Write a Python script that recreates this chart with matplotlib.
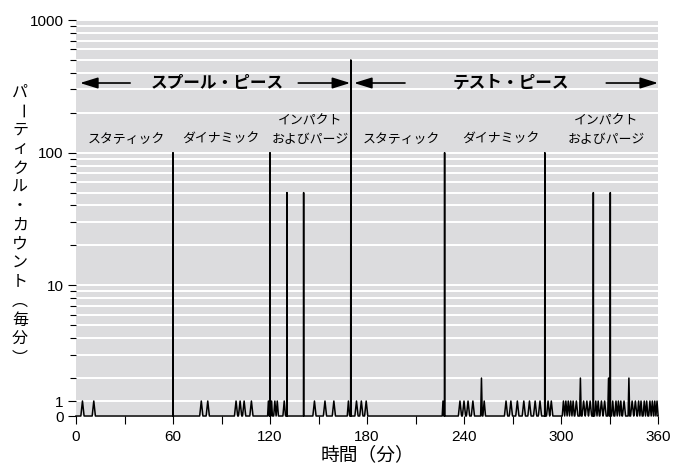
import numpy as np
import matplotlib.pyplot as plt

plt.rcParams['font.family'] = ['Liberation Sans', 'Noto Sans CJK JP', 'DejaVu Sans']

# tall spikes: time (min), particle count per minute
spike_times = [60, 120, 130.5, 140.8, 170, 228, 290, 320, 330.5]
spike_counts = [100, 100, 50, 50, 500, 100, 100, 50, 50]

# small peaks reaching 2 counts
bump2_times = [250.8, 312, 329.4, 342]

# small peaks reaching 1 count
bump_times = [4, 11, 77.5, 81.5, 99, 101.5, 104, 108.5, 119, 121, 123, 124.5,
              128.8, 147.5, 154, 159.5, 168.5, 173.5, 176.5, 179.5, 227,
              237.5, 240, 242.5, 245.5, 252.5, 266, 269, 273, 277, 280.5, 284,
              287, 292, 294, 301.5, 303, 304.5, 306, 307.5, 309.5, 314, 316,
              318, 321.5, 323, 325, 327, 332, 334, 335.5, 337, 339, 344, 346,
              348, 349.5, 351.5, 353, 355, 356.5, 358, 359.4]

phase_labels = ['スタティック', 'ダイナミック', 'インパクト\nおよびパージ',
                'スタティック', 'ダイナミック', 'インパクト\nおよびパージ']
phase_x = [31, 89.5, 145, 201.5, 263, 328]

# build the trace from the peak lists
events = sorted([(t, 1, 1.0) for t in bump_times] +
                [(t, 2, 0.5) for t in bump2_times] +
                [(t, c, 0.1) for t, c in zip(spike_times, spike_counts)])
times = [e[0] for e in events]
xs, ys = [0], [0]
for i, (t, h, w) in enumerate(events):
    gaps = [abs(t - times[j]) for j in (i - 1, i + 1) if 0 <= j < len(times)]
    if h < 5:
        w = min([w] + [0.48 * g for g in gaps])
    xs += [t - w, t, t + w]
    ys += [0, h, 0]
xs.append(360)
ys.append(0)

# axis: log above 2, compressed linear segment for 0..2
U0, U1, U2 = 0.015, 0.128, np.log10(2)


def fwd(v):
    v = np.asarray(v, dtype=float)
    low = np.interp(v, [0, 1, 2], [U0, U1, U2])
    low = np.where(v < 0, U0 + v * (U1 - U0), low)
    return np.where(v >= 2, np.log10(np.maximum(v, 2)), low)


def inv(u):
    u = np.asarray(u, dtype=float)
    low = np.interp(u, [U0, U1, U2], [0, 1, 2])
    low = np.where(u < U0, (u - U0) / (U1 - U0), low)
    return np.where(u >= U2, 10 ** np.minimum(u, 10), low)


fig = plt.figure(figsize=(6.73, 4.75), dpi=100)
ax = fig.add_axes([76 / 673, 59 / 475, 582 / 673, 396 / 475])
ax.set_facecolor('#dcdcde')
ax.set_yscale('function', functions=(fwd, inv))
ax.set_xlim(0, 360)
ax.set_ylim(0, 1000)

ax.plot(xs, ys, color='black', lw=1.1, zorder=3, clip_on=False)

major = [0, 1, 10, 100, 1000]
minor = [m * d for d in (1, 10, 100) for m in range(2, 10)]
ax.set_yticks(major, ['0', '1', '10', '100', '1000'])
ax.set_yticks(minor, minor=True)
ax.yaxis.set_minor_formatter(plt.NullFormatter())
ax.yaxis.grid(True, which='both', color='white', lw=1.4, zorder=1)
ax.set_axisbelow(True)

ax.set_xticks(np.arange(0, 361, 30),
              [str(v) if v % 60 == 0 else '' for v in range(0, 361, 30)])

for s in ax.spines.values():
    s.set_visible(False)
ax.tick_params(axis='y', which='major', length=6, width=0.8, pad=3, labelsize=11)
ax.tick_params(axis='y', which='minor', length=4.5, width=0.8)
ax.tick_params(axis='x', length=6, width=0.8, pad=4, labelsize=11)

# section headers with arrows
for label, xc, arrows in [('スプール・ピース', 87.5, [(33.5, 2.5), (137.5, 169.6)]),
                          ('テスト・ピース', 269, [(203.5, 172), (328, 360)])]:
    ax.text(xc, 335, label, ha='center', va='center', fontsize=12,
            fontweight='bold', zorder=4)
    for tail, head in arrows:
        ax.annotate('', xy=(head, 335), xytext=(tail, 335),
                    arrowprops=dict(arrowstyle='-|>,head_length=0.9,head_width=0.28',
                                    color='black', lw=1.2, shrinkA=0, shrinkB=0,
                                    mutation_scale=12), zorder=4)

for label, xc in zip(phase_labels, phase_x):
    lines = label.split('\n')
    ax.text(xc, 125, lines[-1], ha='center', va='center', fontsize=9.3, zorder=4)
    if len(lines) > 1:
        ax.text(xc, 172, lines[0], ha='center', va='center', fontsize=9.3, zorder=4)

fig.text(367 / 673, 1 - 455 / 475, '時間（分）', ha='center', va='center', fontsize=13.5)

# vertical y label, one character at a time (vertical forms for dash and brackets)
ylab = 'パーティクル・カウント︵毎分︶'
for i, ch in enumerate(ylab):
    rot = -90 if ch == 'ー' else 0
    fig.text(20 / 673, 1 - (92 + i * 19) / 475, ch, ha='center', va='center',
             fontsize=11.5, rotation=rot)

plt.savefig('out.png', dpi=100)
